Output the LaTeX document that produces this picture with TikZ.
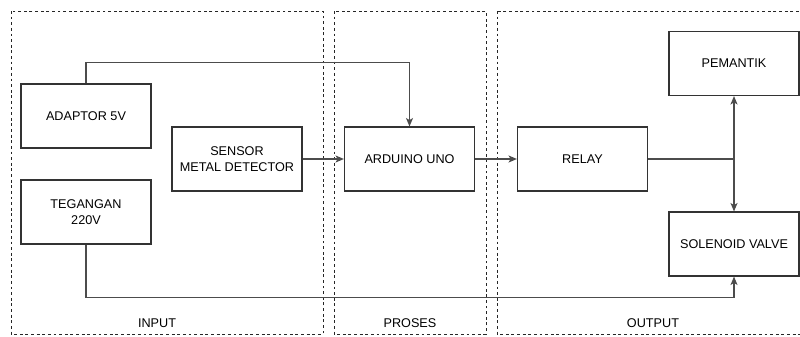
\documentclass[tikz,border=0pt]{standalone}
\usepackage{fontspec}
\setmainfont{Liberation Sans}
\usetikzlibrary{arrows.meta}

\tikzset{
  blok/.style={draw=black!80, line width=0.8pt, minimum width=3.25cm, minimum height=1.6cm,
    align=center, font=\fontsize{9}{11}\selectfont},
  bagian/.style={draw=black!85, line width=0.6pt, dash pattern=on 2pt off 2pt},
  garis/.style={draw=black!70, line width=0.8pt},
  panah/.style={garis, -{Stealth[length=6pt,width=5pt,inset=1.5pt]}},
  judul/.style={font=\fontsize{9}{11}\selectfont}
}

\begin{document}
\begin{tikzpicture}[x=0.025cm,y=-0.025cm]
        \clip (0,0) rectangle (800,336);
        % Bagian
        \draw[bagian] (11,11) rectangle (323,334);
        \draw[bagian] (334,11) rectangle (486,334);
        \draw[bagian] (497,11) rectangle (803,334);
        \node[judul] (input) at (157,323) {INPUT};
        \node[judul] (proses) at (410,323) {PROSES};
        \node[judul] (output) at (653,323) {OUTPUT};
        % Blok
        \node[blok] (adaptor) at (86,116) {ADAPTOR 5V};
        \node[blok] (sensor) at (237,159) {SENSOR\\METAL DETECTOR};
        \node[blok] (tegangan) at (86,212) {TEGANGAN\\220V};
        \node[blok] (arduino) at (409.5,159) {ARDUINO UNO};
        \node[blok] (relay) at (582.5,159) {RELAY};
        \node[blok] (pemantik) at (734,63.5) {PEMANTIK};
        \node[blok] (solenoid) at (734,244) {SOLENOID VALVE};
        \coordinate (cabang) at (pemantik.south |- relay.east);
        % Garis
        \draw[panah] (adaptor.north) -- ++(0,-21) -| (arduino.north);
        \draw[panah] (sensor) -- (arduino);
        \draw[panah] (arduino) -- (relay);
        \draw[garis] (relay.east) -- (cabang);
        \draw[panah] (cabang) -- (pemantik.south);
        \draw[panah] (cabang) -- (solenoid.north);
        \draw[panah] (tegangan.south) -- ++(0,53) -| (solenoid.south);
    \end{tikzpicture}
\end{document}
